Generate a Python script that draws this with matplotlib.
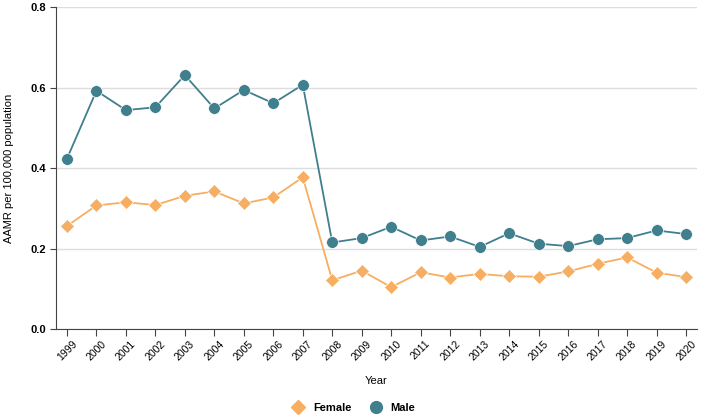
import matplotlib.pyplot as plt
from matplotlib.lines import Line2D

plt.rcParams['font.family'] = ['Liberation Sans', 'DejaVu Sans']

years = list(range(1999, 2021))
male = [0.423, 0.592, 0.544, 0.551, 0.631, 0.548, 0.594, 0.561, 0.607, 0.215,
        0.226, 0.254, 0.220, 0.230, 0.204, 0.238, 0.212, 0.206, 0.223, 0.226,
        0.245, 0.236]
female = [0.256, 0.307, 0.315, 0.308, 0.331, 0.342, 0.312, 0.327, 0.377, 0.121,
          0.145, 0.104, 0.141, 0.128, 0.137, 0.131, 0.130, 0.143, 0.162, 0.178,
          0.140, 0.129]

male_color = "#3f7f8e"
female_color = "#f6ae62"

fig = plt.figure(figsize=(7.02, 4.17), dpi=100)
ax = fig.add_axes([0.0798, 0.211, 0.913, 0.772])

x = list(range(len(years)))
ax.plot(x, female, color=female_color, lw=1.3, marker="D", ms=7,
        mec="white", mew=0.5, zorder=3)
ax.plot(x, male, color=male_color, lw=1.3, marker="o", ms=8.5,
        mec="white", mew=0.5, zorder=4)

ax.set_ylim(0, 0.8)
ax.set_xlim(-0.37, len(years) - 1 + 0.37)
ax.set_yticks([0.0, 0.2, 0.4, 0.6, 0.8])
ax.set_yticklabels(["0.0", "0.2", "0.4", "0.6", "0.8"], fontweight="bold", fontsize=8)
ax.set_xticks(x)
ax.set_xticklabels([str(y) for y in years], rotation=45, fontsize=7.5,
                   ha="center", va="top")
ax.tick_params(axis="x", length=5, color="#444444", pad=2)
ax.tick_params(axis="y", length=4, color="#444444", pad=3)
ax.grid(axis="y", color="#dddddd", lw=1)
ax.set_axisbelow(True)
for s in ["top", "right"]:
    ax.spines[s].set_visible(False)
ax.spines["left"].set_color("#444444")
ax.spines["bottom"].set_color("#444444")

ax.set_ylabel("AAMR per 100,000 population", fontsize=8, labelpad=12)
ax.set_xlabel("Year", fontsize=8, labelpad=10)

handles = [
    Line2D([], [], color=female_color, marker="D", ls="none", ms=7),
    Line2D([], [], color=male_color, marker="o", ls="none", ms=8.5),
]
leg = fig.legend(handles, ["Female", "Male"], loc="center", ncol=2,
                 bbox_to_anchor=(0.5, 0.022), frameon=False,
                 prop={"weight": "bold", "size": 8}, handletextpad=0.3,
                 columnspacing=1.2)

fig.savefig("out.png", dpi=100)
